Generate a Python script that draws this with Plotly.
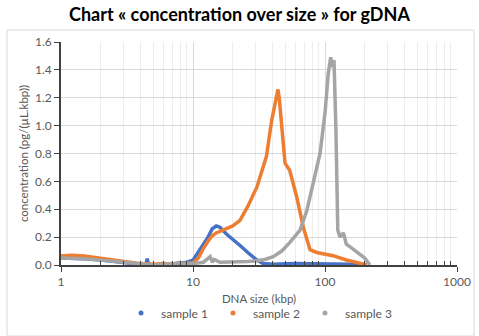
import plotly.graph_objects as go

# sample 1 (blue)
x1 = [1, 1.5, 2, 3, 4, 4.4, 4.5, 4.6, 5, 6, 8, 9, 10, 11, 12, 13, 14, 15, 16, 18, 20, 22.7, 26, 30, 34, 40, 60, 100, 150, 200]
y1 = [0.05, 0.045, 0.035, 0.015, 0.005, 0.005, 0.045, 0.005, 0.0, 0.0, 0.01, 0.02, 0.035, 0.1, 0.15, 0.2, 0.26, 0.28, 0.27, 0.22, 0.18, 0.14, 0.09, 0.04, 0.01, 0.005, 0.01, 0.01, 0.005, 0.0]

# sample 2 (orange)
x2 = [1, 1.2, 1.5, 2, 3, 4, 5, 6, 7, 8, 9, 10, 11, 12, 13, 14, 15, 17, 20, 22.7, 26, 30.5, 36, 39.5, 41.8, 44, 45, 47, 49.8, 54, 61, 68.5, 77, 86.5, 100, 115, 145, 180, 207]
y2 = [0.065, 0.07, 0.065, 0.05, 0.03, 0.01, 0.005, 0.01, 0.005, 0.01, 0.01, 0.015, 0.05, 0.12, 0.17, 0.21, 0.23, 0.25, 0.28, 0.32, 0.42, 0.56, 0.78, 1.04, 1.15, 1.26, 1.2, 1.02, 0.73, 0.68, 0.49, 0.27, 0.11, 0.09, 0.08, 0.067, 0.036, 0.015, 0.0]

# sample 3 (gray)
x3 = [1, 1.5, 2, 3, 4, 5, 6, 7, 8, 8.3, 9, 10, 12, 13.5, 14, 14.5, 16, 18, 22, 26, 30.5, 35, 40.5, 47, 54, 64.7, 72.8, 81.5, 91.7, 100, 106, 110.5, 114, 117, 121, 125, 130, 138, 145, 155, 170, 184, 200, 219]
y3 = [0.05, 0.045, 0.035, 0.02, 0.005, 0.0, 0.005, 0.005, 0.02, 0.01, 0.01, 0.01, 0.02, 0.06, 0.02, 0.04, 0.02, 0.02, 0.02, 0.025, 0.03, 0.04, 0.06, 0.1, 0.16, 0.25, 0.39, 0.59, 0.8, 1.09, 1.38, 1.49, 1.42, 1.47, 0.97, 0.25, 0.2, 0.23, 0.15, 0.13, 0.1, 0.08, 0.05, 0.0]

names = ["sample 1", "sample 2", "sample 3"]
colors = ["#4472C4", "#ED7D31", "#A5A5A5"]
series = [(x1, y1), (x2, y2), (x3, y3)]

xtick_vals = [1, 10, 100, 1000]
xtick_text = ["1", "10", "100", "1000"]
minor_vals = [k * 10 ** d for d in range(3) for k in range(2, 10)]

fig = go.Figure()
for (xs, ys), n, c in zip(series, names, colors):
    fig.add_trace(go.Scatter(x=xs, y=ys, mode="lines", name=n,
                             line=dict(color=c, width=3.5), showlegend=False))
for n, c in zip(names, colors):
    fig.add_trace(go.Scatter(x=[None], y=[None], mode="markers", name=n,
                             marker=dict(color=c, size=5)))

fam = "Lato, Liberation Sans, sans-serif"
tick_font = dict(family=fam, size=12, color="#595959")
title_font = dict(family=fam, size=11.5, color="#595959")
fig.update_layout(
    width=479, height=336,
    margin=dict(l=61, r=22, t=42, b=71, autoexpand=False),
    paper_bgcolor="white", plot_bgcolor="white",
    title=dict(text="<b>Chart « concentration over size » for gDNA</b>",
               x=0.5, xanchor="center", y=0.955, yanchor="middle",
               font=dict(family=fam, size=18, color="#000000")),
    legend=dict(orientation="h", x=0.5, xanchor="center", y=-0.15, yanchor="top",
                font=tick_font, itemwidth=30),
    font=tick_font,
)
fig.update_xaxes(type="log", range=[0, 3], tickvals=xtick_vals, ticktext=xtick_text,
                 showline=True, linecolor="#404040", linewidth=1.5,
                 ticks="outside", ticklen=5, tickcolor="#404040",
                 showgrid=True, gridcolor="#D9D9D9",
                 minor=dict(tickvals=minor_vals, ticks="inside", ticklen=4, tickcolor="#404040",
                            showgrid=True, gridcolor="#EDEDED"),
                 title=dict(text="DNA size (kbp)", font=title_font, standoff=7),
                 tickfont=tick_font, zeroline=False, automargin=False)
fig.update_yaxes(range=[0, 1.6], dtick=0.2, tickformat=".1f",
                 showline=True, linecolor="#404040", linewidth=1.5,
                 ticks="outside", ticklen=5, tickcolor="#404040",
                 showgrid=True, gridcolor="#D9D9D9",
                 title=dict(text="concentration (pg/(µL.kbp))", font=title_font, standoff=4),
                 tickfont=tick_font, zeroline=False, automargin=False)

fig.add_shape(type="rect", xref="paper", yref="paper",
              x0=(7 - 61) / 396, x1=(474 - 61) / 396,
              y0=(265 - 336) / 223, y1=(265 - 30) / 223,
              line=dict(color="#D9D9D9", width=1), layer="below")

fig.write_html("out.html", config={"displayModeBar": False},
               post_script="document.body.style.margin='0';")
